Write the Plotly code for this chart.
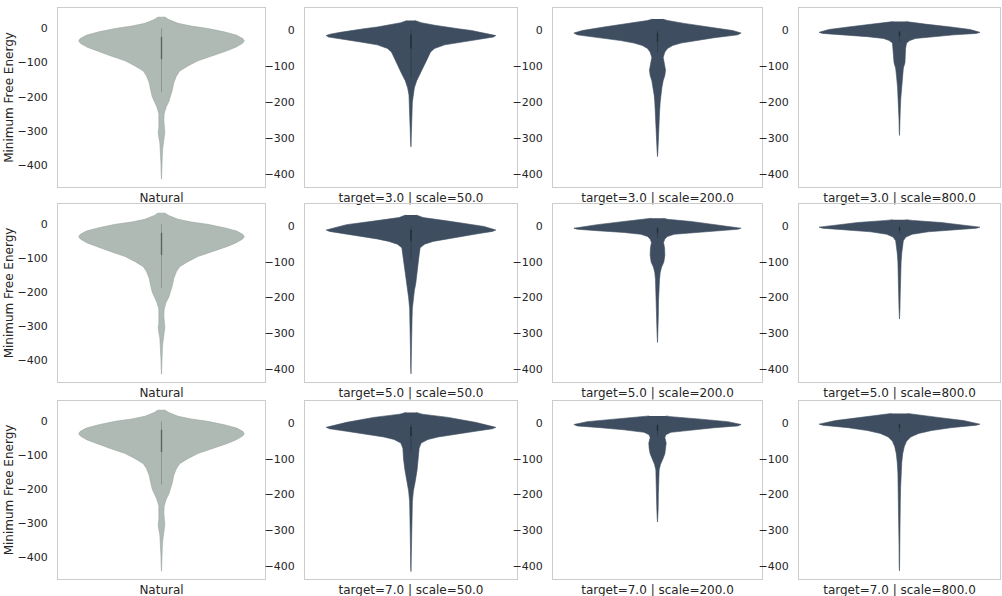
import plotly.graph_objects as go

# ---------------- data ----------------
row_targets = ["3.0", "5.0", "7.0"]
col_scales = ["50.0", "200.0", "800.0"]
natural_label = "Natural"
y_title = "Minimum Free Energy"

# density profiles: MFE levels and relative violin half-widths
natural_mfe = [34, 26, 15, 7, 0, -10, -20, -30, -37, -44, -55, -65, -80, -95, -110, -125, -140,
               -160, -180, -200, -215, -230, -250, -270, -290, -305, -320, -335, -350, -370, -400, -425, -442]
natural_dens = [9, 22, 50, 90, 140, 190, 228, 247, 251, 245, 225, 200, 155, 110, 80, 55, 45,
                37, 33, 28, 22, 14, 8, 7, 8, 10, 8, 5, 4, 2.5, 1.5, 1, 0]

t3s50_mfe = [28, 22, 15, 10, 5, 0, -5, -10, -14, -18, -25, -32, -40, -50, -60, -80, -100, -120,
             -140, -160, -180, -200, -230, -260, -290, -315, -325]
t3s50_dens = [12, 30, 70, 100, 140, 180, 210, 240, 252, 245, 200, 150, 100, 70, 58, 48, 38, 28,
              17, 10, 6, 4, 3, 2.5, 2, 1, 0]

t3s200_mfe = [32, 28, 20, 10, 0, -7, -12, -20, -28, -35, -42, -50, -60, -75, -90, -110, -125, -140,
              -160, -180, -200, -230, -260, -290, -320, -340, -352]
t3s200_dens = [15, 30, 80, 160, 225, 250, 240, 170, 110, 70, 45, 30, 22, 17, 20, 24, 22, 17,
               13, 10, 8, 6, 4, 3, 2, 1, 0]

t3s800_mfe = [25, 23, 18, 10, 3, -5, -8, -12, -17, -22, -28, -35, -50, -70, -90, -105, -130, -160,
              -190, -220, -250, -280, -293]
t3s800_dens = [20, 35, 80, 160, 220, 251, 240, 170, 100, 50, 32, 22, 19, 18, 17, 12, 9, 6,
               4, 2.5, 1.5, 1, 0]

t5s50_mfe = [32, 25, 15, 5, 0, -10, -14, -20, -28, -35, -42, -50, -60, -80, -100, -120, -140, -160,
             -180, -200, -230, -260, -300, -350, -390, -414]
t5s50_dens = [16, 35, 110, 190, 215, 250, 240, 200, 150, 100, 65, 40, 27, 24, 22, 20, 17, 14,
              10, 7, 4, 3, 2, 1.5, 1, 0]

t5s200_mfe = [23, 20, 14, 5, -5, -8, -12, -17, -22, -28, -35, -45, -60, -80, -100, -115, -130, -150,
              -180, -210, -250, -280, -310, -326]
t5s200_dens = [18, 30, 100, 180, 250, 240, 180, 100, 50, 30, 22, 18, 21, 22, 19, 12, 8, 6,
               4, 3, 2.5, 2, 1, 0]

t5s800_mfe = [19, 17, 11, 4, -2, -5, -10, -15, -22, -30, -40, -55, -75, -100, -130, -160, -200, -230, -260]
t5s800_dens = [20, 40, 130, 200, 251, 240, 160, 90, 40, 20, 12, 9, 7, 5, 3.5, 2.5, 2, 1.5, 0]

t7s50_mfe = [31, 26, 17, 3, -11, -15, -22, -30, -38, -45, -55, -70, -100, -130, -160, -190, -220,
             -260, -300, -350, -400, -416]
t7s50_dens = [15, 33, 110, 190, 250, 240, 190, 130, 80, 50, 30, 24, 22, 18, 13, 7, 4,
              3, 2, 1.5, 1, 0]

t7s200_mfe = [21, 19, 12, 5, -3, -7, -12, -18, -25, -32, -40, -55, -70, -85, -100, -115, -130,
              -160, -200, -240, -265, -277]
t7s200_dens = [25, 40, 130, 210, 250, 240, 170, 100, 40, 25, 22, 26, 25, 22, 16, 9, 5,
               3, 2.5, 2, 1, 0]

t7s800_mfe = [28, 26, 17, 8, -2, -5, -12, -20, -28, -38, -50, -65, -85, -110, -140, -180, -220,
              -280, -340, -400, -414]
t7s800_dens = [25, 40, 120, 200, 251, 240, 160, 100, 60, 35, 22, 15, 10, 7, 5, 3.5, 2.5,
               2, 1.5, 1, 0]

# inner box: whisker range and quartile range
natural_whisker = [0, -187]
natural_box = [-25, -90]
target_whiskers = [[[0, -133], [0, -60], [0, -30]],
                   [[0, -95], [0, -33], [0, -20]],
                   [[0, -80], [0, -35], [0, -25]]]
target_boxes = [[[-12, -50], [-7, -30], [-3, -15]],
                [[-10, -40], [-5, -18], [-3, -10]],
                [[-10, -35], [-5, -20], [-3, -12]]]

target_profiles = [[(t3s50_mfe, t3s50_dens), (t3s200_mfe, t3s200_dens), (t3s800_mfe, t3s800_dens)],
                   [(t5s50_mfe, t5s50_dens), (t5s200_mfe, t5s200_dens), (t5s800_mfe, t5s800_dens)],
                   [(t7s50_mfe, t7s50_dens), (t7s200_mfe, t7s200_dens), (t7s800_mfe, t7s800_dens)]]

y_ticks = [0, -100, -200, -300, -400]
y_tick_labels = ["0", "\u2212100", "\u2212200", "\u2212300", "\u2212400"]

# ---------------- styling ----------------
W, H = 1002, 596
col_px = [(58, 265), (305, 517), (553, 762), (799, 1000)]
row_px = [(8, 187), (204, 382), (401, 579)]
natural_range = [-465, 60]
target_range = [-437, 63]
NAT_FILL = "#afbab5"
NAT_EDGE = "#9aa59f"
DARK_FILL = "#3e4d5f"
TEXT = "#262626"
FONT = "DejaVu Sans"
HALF = 0.4

fig = go.Figure()


def add_violin(idx, mfe, dens, fill, edge, whisk, box, wcolor, bcolor):
    xa = "x" if idx == 1 else f"x{idx}"
    ya = "y" if idx == 1 else f"y{idx}"
    m = max(dens)
    hw = [d / m * HALF for d in dens]
    xs = hw + [-v for v in hw[::-1]]
    ys = list(mfe) + list(mfe[::-1])
    fig.add_trace(go.Scatter(x=xs, y=ys, mode="lines", fill="toself", fillcolor=fill,
                             line=dict(color=edge, width=0.6), xaxis=xa, yaxis=ya,
                             hoverinfo="skip", showlegend=False))
    fig.add_trace(go.Scatter(x=[0, 0], y=whisk, mode="lines", line=dict(color=wcolor, width=0.7),
                             xaxis=xa, yaxis=ya, hoverinfo="skip", showlegend=False))
    fig.add_trace(go.Scatter(x=[0, 0], y=box, mode="lines", line=dict(color=bcolor, width=1.4),
                             xaxis=xa, yaxis=ya, hoverinfo="skip", showlegend=False))


layout_axes = {}
for r in range(3):
    for c in range(4):
        idx = r * 4 + c + 1
        if c == 0:
            add_violin(idx, natural_mfe, natural_dens, NAT_FILL, NAT_EDGE,
                       natural_whisker, natural_box, "#7d8581", "#5d6360")
            label = natural_label
            yr = natural_range
        else:
            mfe, dens = target_profiles[r][c - 1]
            add_violin(idx, mfe, dens, DARK_FILL, DARK_FILL,
                       target_whiskers[r][c - 1], target_boxes[r][c - 1], "#2c3744", "#232c36")
            label = f"target={row_targets[r]} | scale={col_scales[c - 1]}"
            yr = target_range
        x0, x1 = col_px[c]
        y0, y1 = row_px[r]
        xname = "xaxis" if idx == 1 else f"xaxis{idx}"
        yname = "yaxis" if idx == 1 else f"yaxis{idx}"
        ya = "y" if idx == 1 else f"y{idx}"
        xa = "x" if idx == 1 else f"x{idx}"
        layout_axes[xname] = dict(domain=[x0 / W, x1 / W], anchor=ya, range=[-0.5, 0.5],
                                  tickvals=[0], ticktext=[label], showgrid=False, zeroline=False,
                                  showline=True, mirror=True, linecolor="#cccccc", linewidth=1,
                                  ticks="", ticklen=0, ticklabelstandoff=0,
                                  tickfont=dict(family=FONT, size=12, color=TEXT), fixedrange=True)
        ydict = dict(domain=[1 - y1 / H, 1 - y0 / H], anchor=xa, range=yr,
                     tickvals=y_ticks, ticktext=y_tick_labels, showgrid=False,
                     zeroline=False, showline=True, mirror=True, linecolor="#cccccc",
                     linewidth=1, ticks="", ticklen=0, ticklabelstandoff=7,
                     tickfont=dict(family=FONT, size=11, color=TEXT), fixedrange=True)
        if c == 0:
            ydict["title"] = dict(text=y_title, standoff=1,
                                  font=dict(family=FONT, size=12, color=TEXT))
        layout_axes[yname] = ydict

fig.update_layout(width=W, height=H, margin=dict(l=0, r=0, t=0, b=0),
                  paper_bgcolor="white", plot_bgcolor="white", showlegend=False,
                  **layout_axes)

fig.write_html("out.html", config={"displayModeBar": False},
               post_script="document.body.style.margin='0';")
